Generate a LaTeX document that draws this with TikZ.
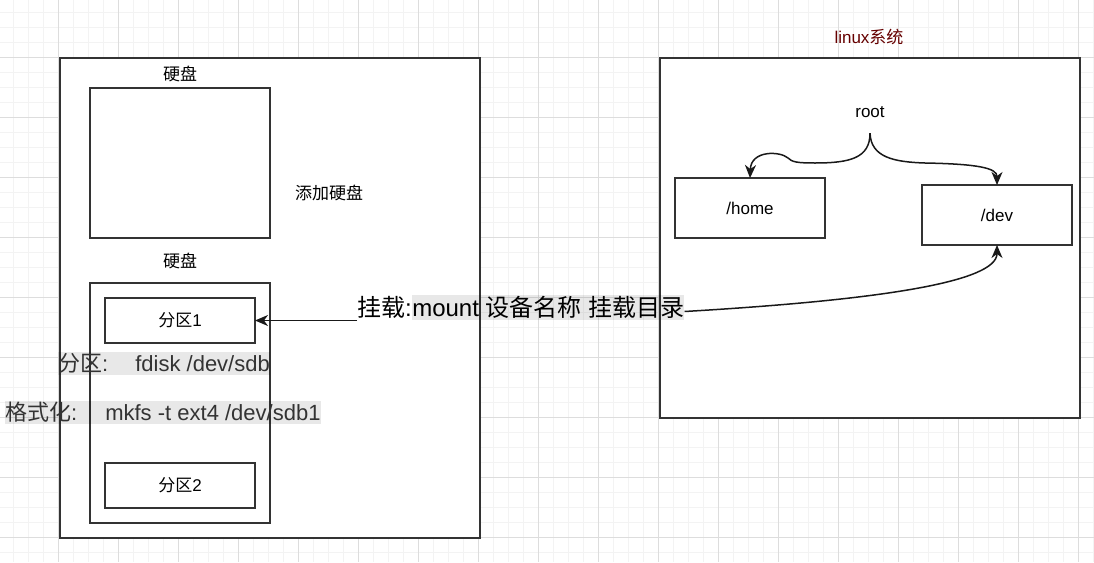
\documentclass[tikz,border=0pt]{standalone}
\usepackage{fontspec}
\setmainfont{Liberation Sans}
\newfontfamily\cjk{Noto Sans CJK SC}
\usetikzlibrary{arrows.meta}
\definecolor{gridminor}{HTML}{F3F3F3}
\definecolor{gridmajor}{HTML}{DDDDDD}
\definecolor{edge}{HTML}{333333}
\definecolor{darkred}{HTML}{660000}
\definecolor{labtext}{HTML}{333333}
\newcommand\fsz[1]{\fontsize{#1}{#1}\selectfont}
\begin{document}
\begin{tikzpicture}[x=1pt,y=-1pt,
  box/.style={draw=edge, line width=1.8pt, fill=white, inner sep=0pt, outer sep=0pt, font=\fsz{17}},
  lab/.style={font=\fsz{17}, inner sep=0pt, text=black},
  hl/.style={fill=black, fill opacity=0.09, text opacity=1, inner sep=0pt, minimum height=23pt, text=labtext, font=\fsz{22}},
  mnt/.style={font=\fsz{24}, inner sep=0pt, minimum height=25pt, text=black},
  conn/.style={draw=black!90, line width=1.5pt, -{Stealth[length=13pt,width=11pt,inset=4pt]}},
]
\useasboundingbox (0,0) rectangle (1094,562);
\fill[white] (0,0) rectangle (1094,562);
% grid
\foreach \i in {0,...,73} {
  \draw[gridminor, line width=1pt] ({13.3+15*\i},0) -- ({13.3+15*\i},562);
}
\foreach \i in {0,...,37} {
  \draw[gridminor, line width=1pt] (0,{12.3+15*\i}) -- (1094,{12.3+15*\i});
}
\foreach \i in {0,...,18} {
  \draw[gridmajor, line width=1pt] ({-1.7+60*\i},0) -- ({-1.7+60*\i},562);
}
\foreach \i in {0,...,9} {
  \draw[gridmajor, line width=1pt] (0,{-2.7+60*\i}) -- (1094,{-2.7+60*\i});
}
% left side
\node[box, minimum width=420pt, minimum height=480pt] (L) at (270,298) {};
\node[box, minimum width=180pt, minimum height=150pt] (disk1) at (180,163) {};
\node[box, minimum width=180pt, minimum height=240pt] (disk2) at (180,403) {};
\node[box, minimum width=150pt, minimum height=45pt] (p1) at (180,320.5) {{\cjk 分区}1};
\node[box, minimum width=150pt, minimum height=45pt] (p2) at (180,485.5) {{\cjk 分区}2};
\node[lab] (t1) at (180,74) {\cjk 硬盘};
\node[lab] (t2) at (180,261) {\cjk 硬盘};
\node[lab] (add) at (329,193) {\cjk 添加硬盘};
% right side
\node[box, minimum width=420pt, minimum height=360pt] (R) at (870,238) {};
\node[lab, text=darkred] (sys) at (869,37) {linux{\cjk 系统}};
\node[lab, minimum height=42pt] (root) at (870,112) {root};
\node[box, minimum width=150pt, minimum height=60pt] (home) at (750,208) {/home};
\node[box, minimum width=150pt, minimum height=60pt] (dev) at (997,215) {/dev};
% highlighted command lines
\node[hl, anchor=west] (fd) at (58,363) {{\cjk 分区}:\hspace{27pt}fdisk /dev/sdb};
\node[hl, anchor=west] (mk) at (5,412) {{\cjk 格式化}:\hspace{28pt}mkfs -t ext4 /dev/sdb1};
% mount label
\node[mnt, anchor=west] (mA) at (357,307.5) {{\cjk 挂载}:};
\node[mnt, anchor=west, fill=black, fill opacity=0.09, text opacity=1] (mB) at (mA.east) {mount {\cjk 设备名称} {\cjk 挂载目录}};
% connectors
\draw[conn] (mA.west |- p1.east) -- (p1.east);
\draw[conn] ([yshift=-4pt]mB.east) .. controls (880,300) and (997,282) .. (dev.south);
\draw[conn] (root.south) .. controls (870,158) and (850,163) .. (815,163)
  .. controls (797,163) and (792,162) .. (788,158)
  .. controls (780,151) and (751,150) .. (home.north);
\draw[conn] (root.south) .. controls (871,157) and (893,162) .. (925,163)
  .. controls (978,164) and (997,168) .. (dev.north);
\end{tikzpicture}
\end{document}
